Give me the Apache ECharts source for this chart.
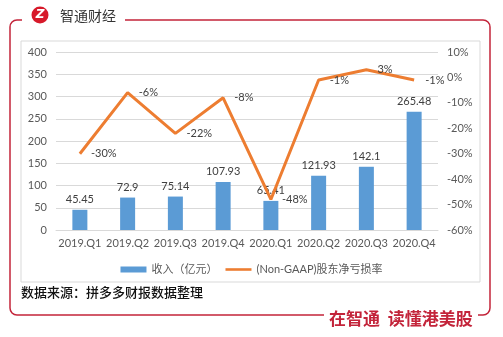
<!DOCTYPE html>
<html>
<head>
<meta charset="utf-8">
<script src="https://cdn.jsdelivr.net/npm/echarts@6/dist/echarts.min.js"></script>
<style>html,body{margin:0;padding:0;background:#fff}#c{width:503px;height:337px}</style>
</head>
<body>
<div id="c"></div>
<script>
const categories = ['2019.Q1','2019.Q2','2019.Q3','2019.Q4','2020.Q1','2020.Q2','2020.Q3','2020.Q4'];
const revenue = [45.45, 72.9, 75.14, 107.93, 65.41, 121.93, 142.1, 265.48];
const lossRate = [-30, -6, -22, -8, -48, -1, 3, -1];
const revenueName = '收入（亿元）';
const lossName = '(Non-GAAP)股东净亏损率';

const FONT = "Lato, 'Noto Sans CJK SC', sans-serif";
const RED = '#c3243a';
const chart = echarts.init(document.getElementById('c'), null, {renderer: 'canvas'});
chart.setOption({
  animation: false,
  textStyle: {fontFamily: FONT},
  grid: {left: 56, right: 65, top: 52, bottom: 107},
  legend: {
    top: 259, left: 'center', itemWidth: 26, itemHeight: 6, itemGap: 8,
    textStyle: {color: '#595959', fontSize: 11, fontFamily: FONT},
    data: [{name: revenueName, icon: 'rect'}, {name: lossName, icon: 'path://M0 0H30V3H0Z'}]
  },
  xAxis: {
    type: 'category', data: categories,
    axisTick: {show: false},
    axisLine: {lineStyle: {color: '#d9d9d9'}},
    axisLabel: {color: '#595959', fontSize: 11, margin: 8, interval: 0}
  },
  yAxis: [{
    type: 'value', min: 0, max: 400, interval: 50,
    axisLine: {show: false}, axisTick: {show: false},
    splitLine: {lineStyle: {color: '#d9d9d9'}},
    axisLabel: {color: '#595959', fontSize: 11, margin: 9}
  }, {
    type: 'value', min: -60, max: 10, interval: 10,
    axisLine: {show: false}, axisTick: {show: false},
    splitLine: {show: false},
    axisLabel: {color: '#595959', fontSize: 11, margin: 9, formatter: '{value}%'}
  }],
  series: [{
    name: revenueName, type: 'bar', data: revenue, barWidth: 15,
    itemStyle: {color: '#5b9bd5'},
    label: {show: true, position: 'top', distance: 5, color: '#404040', fontSize: 11}
  }, {
    name: lossName, type: 'line', yAxisIndex: 1, data: lossRate,
    symbol: 'circle', symbolSize: 0.1, showSymbol: true,
    lineStyle: {color: '#ed7d31', width: 3}, itemStyle: {color: '#ed7d31'},
    label: {show: true, position: 'right', distance: 11, color: '#404040', fontSize: 11, formatter: '{c}%'},
    labelLayout: {hideOverlap: false}
  }],
  graphic: [
    {type: 'rect', z: 1, shape: {x: 10, y: 20, width: 480, height: 295, r: 7}, style: {fill: 'none', stroke: RED, lineWidth: 1.5}},
    {type: 'rect', z: 2, shape: {x: 22, y: 12, width: 103, height: 16}, style: {fill: '#fff'}},
    {type: 'rect', z: 2, shape: {x: 324, y: 308, width: 154, height: 16}, style: {fill: '#fff'}},
    {type: 'rect', z: 1, shape: {x: 21, y: 41, width: 459, height: 241}, style: {fill: 'none', stroke: '#d9d9d9', lineWidth: 1}},
    {type: 'circle', z: 3, shape: {cx: 40, cy: 15, r: 8.5}, style: {fill: '#d7192a'}},
    {type: 'text', z: 4, x: 40, y: 15, style: {text: 'Z', fill: '#fff', font: "italic bold 12px 'DejaVu Sans'", align: 'center', verticalAlign: 'middle'}},
    {type: 'text', z: 4, x: 60, y: 16, style: {text: '智通财经', fill: '#333', font: "14px 'Noto Sans CJK SC'", verticalAlign: 'middle'}},
    {type: 'text', z: 4, x: 21, y: 292, style: {text: '数据来源：拼多多财报数据整理', fill: '#111', font: "500 13px 'Noto Sans CJK SC'", verticalAlign: 'middle'}},
    {type: 'text', z: 4, x: 329, y: 319, style: {text: '在智通  读懂港美股', fill: RED, font: "bold 17px 'Noto Sans CJK SC'", verticalAlign: 'middle'}}
  ]
});
</script>
</body>
</html>
